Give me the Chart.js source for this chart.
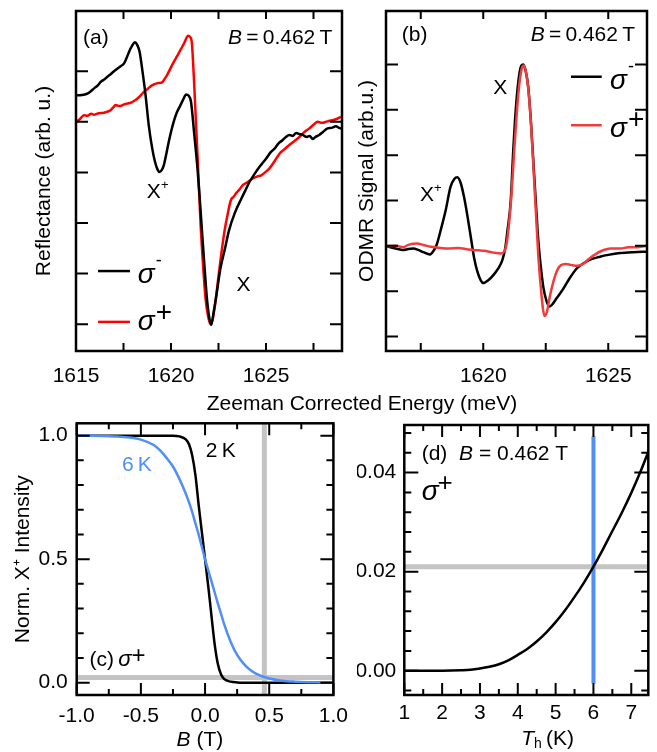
<!DOCTYPE html>
<html>
<head>
<meta charset="utf-8">
<script src="https://cdn.jsdelivr.net/npm/chart.js@4.4.1/dist/chart.umd.min.js"></script>
<style>
  html, body { margin: 0; padding: 0; background: #fff; }
  #fig { position: relative; width: 657px; height: 752px; overflow: hidden;
         font-family: 'Liberation Sans', Arial, Helvetica, sans-serif; }
  #fig canvas { position: absolute; }
  #energyTitle { position: absolute; left: 362px; top: 403px; font-size: 21px; color: #000;
                 white-space: nowrap; transform: translate(-50%, -50%); }
</style>
</head>
<body>
<div id="fig">
  <canvas id="panelA" width="357" height="395" style="left:0;top:0"></canvas>
  <canvas id="panelB" width="312" height="395" style="left:345px;top:0"></canvas>
  <canvas id="panelC" width="357" height="352" style="left:0;top:400px"></canvas>
  <canvas id="panelD" width="300" height="352" style="left:357px;top:400px"></canvas>
  <div id="energyTitle">Zeeman Corrected Energy (meV)</div>
</div>
<script>
// ── (a) reflectance spectra at B = 0.462 T ── //
const reflEnergyMinus = [1615.0, 1615.3, 1615.55, 1615.7, 1615.95, 1616.15, 1616.3, 1616.5, 1616.65, 1616.85,
  1617.0, 1617.17, 1617.35, 1617.52, 1617.65, 1617.8, 1617.95, 1618.1, 1618.22, 1618.35,
  1618.48, 1618.66, 1618.83, 1619.0, 1619.15, 1619.3, 1619.39, 1619.5, 1619.62, 1619.75,
  1619.88, 1620.0, 1620.14, 1620.3, 1620.5, 1620.65, 1620.8, 1620.92, 1621.05, 1621.22,
  1621.4, 1621.52, 1621.64, 1621.78, 1621.9, 1622.02, 1622.12, 1622.25, 1622.4, 1622.6,
  1622.82, 1623.05, 1623.35, 1623.7, 1624.0, 1624.13, 1624.4, 1624.66, 1624.85, 1625.0,
  1625.25, 1625.45, 1625.65, 1625.88, 1626.05, 1626.23, 1626.4, 1626.59, 1626.75, 1626.93,
  1627.15, 1627.3, 1627.46, 1627.6, 1627.8, 1628.0, 1628.24, 1628.45, 1628.68, 1628.85, 1629.0];
const reflMinus = [4.52, 4.53, 4.55, 4.58, 4.66, 4.72, 4.79, 4.84, 4.89, 4.95,
  5.0, 5.05, 5.1, 5.15, 5.25, 5.39, 5.5, 5.57, 5.52, 5.38,
  5.05, 4.53, 3.93, 3.5, 3.22, 3.05, 3.01, 3.04, 3.14, 3.36,
  3.6, 3.8, 4.0, 4.18, 4.33, 4.45, 4.54, 4.52, 4.4, 3.77,
  3.05, 2.45, 1.79, 1.05, 0.47, 0.12, -0.01, 0.25, 0.6, 1.1,
  1.46, 1.85, 2.19, 2.48, 2.71, 2.81, 2.97, 3.11, 3.2, 3.27,
  3.4, 3.47, 3.57, 3.64, 3.7, 3.74, 3.72, 3.78, 3.76, 3.74,
  3.7, 3.72, 3.66, 3.7, 3.74, 3.8, 3.87, 3.88, 3.91, 3.88, 3.86];
const reflEnergyPlus = [1615.0, 1615.2, 1615.42, 1615.6, 1615.8, 1615.94, 1616.2, 1616.47, 1616.65, 1616.82,
  1617.0, 1617.08, 1617.3, 1617.5, 1617.69, 1617.9, 1618.13, 1618.35, 1618.57, 1618.8,
  1619.0, 1619.25, 1619.53, 1619.65, 1619.79, 1619.95, 1620.14, 1620.32, 1620.5, 1620.7,
  1620.9, 1621.0, 1621.1, 1621.2, 1621.3, 1621.4, 1621.56, 1621.7, 1621.82, 1621.97,
  1622.1, 1622.22, 1622.35, 1622.5, 1622.65, 1622.82, 1622.99, 1623.15, 1623.3, 1623.45,
  1623.6, 1623.78, 1624.0, 1624.31, 1624.55, 1624.75, 1624.95, 1625.18, 1625.45, 1625.71,
  1625.95, 1626.23, 1626.5, 1626.76, 1627.0, 1627.28, 1627.5, 1627.72, 1627.95, 1628.16,
  1628.35, 1628.5, 1628.75, 1628.95];
const reflPlus = [3.99, 4.05, 4.13, 4.12, 4.16, 4.14, 4.17, 4.18, 4.2, 4.23,
  4.3, 4.33, 4.31, 4.34, 4.36, 4.38, 4.43, 4.5, 4.59, 4.66,
  4.72, 4.76, 4.78, 4.84, 4.92, 5.04, 5.18, 5.3, 5.42, 5.56,
  5.7, 5.68, 5.55, 4.9, 4.1, 3.3, 1.95, 1.1, 0.5, 0.12,
  -0.01, 0.15, 0.47, 0.95, 1.4, 1.85, 2.19, 2.45, 2.52, 2.6,
  2.66, 2.75, 2.8, 2.88, 2.92, 2.94, 3.0, 3.08, 3.22, 3.37,
  3.45, 3.54, 3.62, 3.7, 3.79, 3.87, 3.94, 4.0, 3.98, 4.0,
  4.02, 4.03, 4.06, 4.1];

// ── (b) ODMR spectra ── //
const odmrEnergyMinus = [1616.13, 1616.5, 1616.8, 1617.0, 1617.2, 1617.4, 1617.6, 1617.87, 1618.0, 1618.14,
  1618.3, 1618.5, 1618.69, 1618.85, 1618.96, 1619.1, 1619.23, 1619.37, 1619.5, 1619.63,
  1619.76, 1619.9, 1620.0, 1620.2, 1620.43, 1620.6, 1620.76, 1620.88, 1620.96, 1621.1,
  1621.2, 1621.3, 1621.42, 1621.52, 1621.6, 1621.7, 1621.8, 1621.9, 1622.0, 1622.1,
  1622.2, 1622.3, 1622.4, 1622.52, 1622.64, 1622.75, 1622.94, 1623.2, 1623.45, 1623.74,
  1624.03, 1624.3, 1624.67, 1625.0, 1625.47, 1626.0, 1626.55];
const odmrMinus = [-0.01, -0.06, -0.09, -0.07, -0.06, -0.09, -0.14, -0.19, -0.12, 0.03,
  0.35, 0.79, 1.3, 1.48, 1.51, 1.38, 1.08, 0.65, 0.2, -0.25,
  -0.56, -0.76, -0.82, -0.76, -0.63, -0.5, -0.32, -0.05, 0.3, 1.0,
  2.1, 3.0, 3.7, 3.97, 4.0, 3.85, 3.5, 2.8, 1.9, 1.0,
  0.13, -0.45, -0.9, -1.2, -1.34, -1.3, -1.15, -0.95, -0.72, -0.5,
  -0.38, -0.3, -0.24, -0.2, -0.16, -0.14, -0.13];
const odmrEnergyPlus = [1616.13, 1616.5, 1616.8, 1617.0, 1617.36, 1617.6, 1617.9, 1618.2, 1618.6, 1619.0,
  1619.4, 1619.8, 1620.03, 1620.4, 1620.7, 1620.85, 1620.95, 1621.05, 1621.15, 1621.25,
  1621.35, 1621.45, 1621.55, 1621.62, 1621.72, 1621.82, 1621.92, 1622.02, 1622.12, 1622.2,
  1622.3, 1622.38, 1622.45, 1622.55, 1622.65, 1622.8, 1622.95, 1623.1, 1623.3, 1623.5,
  1623.75, 1624.0, 1624.2, 1624.45, 1624.7, 1625.1, 1625.5, 1625.8, 1626.2, 1626.55];
const odmrPlus = [-0.01, 0.0, -0.03, 0.02, 0.05, 0.02, -0.02, -0.04, -0.06, -0.05,
  -0.08, -0.1, -0.11, -0.15, -0.17, -0.12, 0.1, 0.6, 1.3, 2.2,
  3.0, 3.6, 3.93, 3.98, 3.8, 3.35, 2.6, 1.6, 0.6, -0.2,
  -0.9, -1.35, -1.55, -1.45, -1.15, -0.8, -0.55, -0.43, -0.4, -0.42,
  -0.44, -0.4, -0.3, -0.2, -0.12, -0.06, -0.06, -0.03, -0.03, 0.0];

// ── (c) normalised X+ intensity vs field ── //
const fieldT = [-1.0, -0.9, -0.8, -0.7, -0.6, -0.5, -0.4, -0.35, -0.3, -0.25,
  -0.2, -0.15, -0.125, -0.1, -0.075, -0.05, -0.025, 0.0, 0.025, 0.05,
  0.075, 0.1, 0.125, 0.15, 0.2, 0.25, 0.3, 0.35, 0.4, 0.5,
  0.6, 0.7, 0.8, 0.9, 1.0];
const intensity2K = [1, 1, 1, 1, 1, 1, 1, 1, 1, 1.0,
  0.997, 0.985, 0.965, 0.92, 0.84, 0.72, 0.61, 0.5, 0.39, 0.27,
  0.155, 0.075, 0.033, 0.014, 0.004, 0.001, 0, 0, 0, 0,
  0, 0, 0, 0, 0];
const intensity6K = [1.0, 0.9995, 0.999, 0.997, 0.993, 0.984, 0.962, 0.94, 0.91, 0.875,
  0.825, 0.765, 0.73, 0.69, 0.645, 0.6, 0.55, 0.5, 0.455, 0.41,
  0.365, 0.32, 0.278, 0.235, 0.165, 0.112, 0.077, 0.052, 0.036, 0.017,
  0.008, 0.004, 0.002, 0.001, 0.0];

// ── (d) X+ intensity at 0.462 T vs hole temperature ── //
const holeTempK = [1, 1.5, 2, 2.5, 2.75, 3, 3.25, 3.5, 3.75, 4,
  4.25, 4.5, 4.75, 5, 5.25, 5.5, 5.75, 6, 6.25, 6.5,
  6.75, 7, 7.25, 7.5];
const intensityAtField = [0, 0, 0.00001, 0.0001, 0.0002, 0.00045, 0.0008, 0.0013, 0.0021, 0.0032,
  0.0044, 0.0059, 0.0077, 0.0098, 0.0122, 0.0149, 0.0178, 0.021, 0.0245, 0.0282,
  0.0319, 0.0359, 0.0403, 0.0452];

const B_FIELD = 0.462;     // T, field used in (a), (b) and marked in (c)
const T_HOLE = 6;          // K, marked in (d)
const X_PLUS_LEVEL = 0.021;

// ── Axis ranges and ticks ── //
const rangeA = { x: [1615, 1629], y: [-0.53, 6.19] };
const rangeB = { x: [1616.11, 1626.55], y: [-2.32, 5.18] };
const rangeC = { x: [-1, 1], y: [-0.05, 1.05] };
const rangeD = { x: [1, 7.45], y: [-0.0049, 0.0496] };

const labelsAx = [1615, 1620, 1625];
const ticksAx = [1615, 1617.5, 1620, 1622.5, 1625, 1627.5];
const ticksAy = [0, 1, 2, 3, 4, 5];
const labelsBx = [1620, 1625];
const ticksBx = [1617.5, 1620, 1622.5, 1625];
const ticksBy = [-2, -1, 0, 1, 2, 3, 4];
const labelsCx = [-1, -0.5, 0, 0.5, 1];
const minorCx = [-0.75, -0.25, 0.25, 0.75];
const labelsCy = [0, 0.5, 1];
const minorCy = [0.1, 0.2, 0.3, 0.4, 0.6, 0.7, 0.8, 0.9];
const labelsDx = [1, 2, 3, 4, 5, 6, 7];
const minorDx = [1.5, 2.5, 3.5, 4.5, 5.5, 6.5];
const labelsDy = [0, 0.02, 0.04];
const minorDy = [-0.004, 0.004, 0.008, 0.012, 0.016, 0.024, 0.028, 0.032, 0.036, 0.044, 0.048];

const FONT = "'Liberation Sans', Arial, Helvetica, sans-serif";
const SIZE = 21;
const RED = '#ff0000';
const RED_ODMR = '#f03c3c';
const BLUE = '#4f8ff7';
const GREY = '#c4c4c4';

const pts = (xs, ys) => xs.map((x, i) => ({ x, y: ys[i] }));

// draws a run of text pieces (italics, super/subscripts) starting at x
function richText(ctx, x, y, parts, align, color) {
  const fontOf = p => `${p.st || ''} ${p.s || SIZE}px ${FONT}`;
  let w = 0;
  parts.forEach(p => { ctx.font = fontOf(p); w += ctx.measureText(p.t).width + (p.dx || 0); });
  let cx = align === 'right' ? x - w : align === 'center' ? x - w / 2 : x;
  ctx.textBaseline = 'middle';
  ctx.textAlign = 'left';
  parts.forEach(p => {
    ctx.font = fontOf(p);
    cx += p.dx || 0;
    ctx.fillStyle = p.c || color || '#000';
    ctx.fillText(p.t, cx, y + (p.dy || 0));
    cx += ctx.measureText(p.t).width;
  });
}

// frame round the plot area with inward ticks on all four sides
function frameTicks(xTicks, yTicks) {
  return {
    id: 'frameTicks',
    afterDatasetsDraw(chart) {
      const { ctx, chartArea: a, scales: { x, y } } = chart;
      ctx.save();
      ctx.strokeStyle = '#000';
      ctx.lineWidth = 2;
      ctx.beginPath();
      xTicks.forEach(([values, len]) => values.forEach(v => {
        const p = x.getPixelForValue(v);
        ctx.moveTo(p, a.bottom); ctx.lineTo(p, a.bottom - len);
        ctx.moveTo(p, a.top); ctx.lineTo(p, a.top + len);
      }));
      yTicks.forEach(([values, len]) => values.forEach(v => {
        const p = y.getPixelForValue(v);
        ctx.moveTo(a.left, p); ctx.lineTo(a.left + len, p);
        ctx.moveTo(a.right, p); ctx.lineTo(a.right - len, p);
      }));
      ctx.stroke();
      ctx.lineWidth = 2.5;
      ctx.strokeRect(a.left, a.top, a.width, a.height);
      ctx.restore();
    },
  };
}

// straight marker lines at fixed field / temperature / intensity
function markerLines(lines) {
  return {
    id: 'markerLines',
    beforeDatasetsDraw(chart) {
      const { ctx, chartArea: a, scales: { x, y } } = chart;
      ctx.save();
      lines.forEach(l => {
        ctx.strokeStyle = l.color;
        ctx.lineWidth = l.width;
        ctx.beginPath();
        if (l.axis === 'x') {
          const p = x.getPixelForValue(l.value);
          const y0 = l.from !== undefined ? y.getPixelForValue(l.from) : a.bottom;
          const y1 = l.to !== undefined ? y.getPixelForValue(l.to) : a.top;
          ctx.moveTo(p, y0); ctx.lineTo(p, y1);
        } else {
          const p = y.getPixelForValue(l.value);
          ctx.moveTo(a.left, p); ctx.lineTo(a.right, p);
        }
        ctx.stroke();
      });
      ctx.restore();
    },
  };
}

// labels, legend keys and axis captions
function annotations(items) {
  return {
    id: 'annotations',
    afterDraw(chart) {
      const { ctx, chartArea: a, scales: { x, y } } = chart;
      ctx.save();
      items.forEach(it => {
        const px = x.getPixelForValue(it.x);
        const py = it.below !== undefined ? a.bottom + it.below : y.getPixelForValue(it.y);
        if (it.line) {
          ctx.strokeStyle = it.color;
          ctx.lineWidth = 2.5;
          ctx.beginPath();
          ctx.moveTo(px, py);
          ctx.lineTo(x.getPixelForValue(it.x2), py);
          ctx.stroke();
        } else {
          richText(ctx, px, py + (it.dy || 0), it.parts, it.align, it.color);
        }
      });
      ctx.restore();
    },
  };
}

function curve(xs, ys, color) {
  return {
    data: pts(xs, ys),
    borderColor: color,
    borderWidth: 2.5,
    pointRadius: 0,
    fill: false,
    cubicInterpolationMode: 'monotone',
  };
}

function axis(range, labels, fmt, fitSize, horizontal, pad, title) {
  const cfg = {
    type: 'linear',
    min: range[0],
    max: range[1],
    grid: { display: false, drawTicks: false },
    border: { display: false },
    ticks: {
      display: labels.length > 0,
      autoSkip: false,
      maxRotation: 0,
      padding: pad,
      color: '#000',
      font: { family: FONT, size: SIZE },
      callback: v => fmt(v),
    },
    afterBuildTicks: s => { s.ticks = labels.map(v => ({ value: v })); },
    afterFit: s => { if (horizontal) s.height = fitSize; else s.width = fitSize; },
  };
  if (title) {
    cfg.title = {
      display: true,
      text: title.text,
      color: '#000',
      font: { family: FONT, size: SIZE },
      padding: { top: title.pad, bottom: 0 },
    };
  }
  return cfg;
}

function panel(id, datasets, scales, padding, plugins) {
  return new Chart(document.getElementById(id), {
    type: 'line',
    data: { datasets },
    options: {
      responsive: false,
      animation: false,
      events: [],
      layout: { padding },
      plugins: { legend: { display: false }, tooltip: { enabled: false } },
      scales,
    },
    plugins,
  });
}

const asInt = v => String(v);
const sigmaMinus = [{ t: 'σ', st: 'italic', s: 28 }, { t: '-', s: 18, dx: 1, dy: -14 }];
const sigmaPlus = [{ t: 'σ', st: 'italic', s: 28 }, { t: '+', s: 28, dx: 1, dy: -9 }];

// ── (a) ── //
panel('panelA',
  [curve(reflEnergyMinus, reflMinus, '#000'), curve(reflEnergyPlus, reflPlus, RED)],
  {
    x: axis(rangeA.x, labelsAx, asInt, 44, true, 13),
    y: axis(rangeA.y, [], asInt, 76, false, 9, { text: 'Reflectance (arb. u.)', pad: 32 }),
  },
  { left: 0, right: 15, top: 11, bottom: 0 },
  [
    frameTicks([[ticksAx, 8]], [[ticksAy, 12]]),
    annotations([
      { x: 1615.37, y: 5.65, parts: [{ t: '(a)' }] },
      { x: 1628.49, y: 5.65, align: 'right', parts: [{ t: 'B', st: 'italic' }, { t: '\u2009=\u2009' }, { t: '0.462\u2009T' }] },
      { x: 1618.73, y: 2.61, parts: [{ t: 'X' }, { t: '+', s: 13, dy: -7 }] },
      { x: 1623.45, y: 0.77, parts: [{ t: 'X' }] },
      { line: true, x: 1616.16, x2: 1617.84, y: 1.05, color: '#000' },
      { line: true, x: 1616.16, x2: 1617.84, y: 0.045, color: RED },
      { x: 1618.25, y: 0.97, parts: sigmaMinus },
      { x: 1618.25, y: 0.03, parts: sigmaPlus },
    ]),
  ]);

// ── (b) ── //
panel('panelB',
  [curve(odmrEnergyPlus, odmrPlus, RED_ODMR), curve(odmrEnergyMinus, odmrMinus, '#000')],
  {
    x: axis(rangeB.x, labelsBx, asInt, 44, true, 13),
    y: axis(rangeB.y, [], asInt, 41, false, 9, { text: 'ODMR Signal (arb.u.)', pad: 10 }),
  },
  { left: 0, right: 10, top: 11, bottom: 0 },
  [
    frameTicks([[ticksBx, 8]], [[ticksBy, 12]]),
    annotations([
      { x: 1616.74, y: 4.65, parts: [{ t: '(b)' }] },
      { x: 1626.07, y: 4.65, align: 'right', parts: [{ t: 'B', st: 'italic' }, { t: '\u2009=\u2009' }, { t: '0.462\u2009T' }] },
      { x: 1620.4, y: 3.47, parts: [{ t: 'X' }] },
      { x: 1617.47, y: 1.11, parts: [{ t: 'X' }, { t: '+', s: 13, dy: -7 }] },
      { line: true, x: 1623.51, x2: 1624.74, y: 3.73, color: '#000' },
      { line: true, x: 1623.51, x2: 1624.74, y: 2.66, color: RED_ODMR },
      { x: 1625.07, y: 3.63, parts: sigmaMinus },
      { x: 1625.07, y: 2.58, parts: sigmaPlus },
    ]),
  ]);

// ── (c) ── //
panel('panelC',
  [curve(fieldT, intensity6K, BLUE), curve(fieldT, intensity2K, '#000')],
  {
    x: axis(rangeC.x, labelsCx, v => v.toFixed(1), 57, true, 9),
    y: axis(rangeC.y, labelsCy, v => v.toFixed(1), 76.7, false, 9, { text: 'Norm. X\u207A Intensity', pad: 11 }),
  },
  { left: 0, right: 15.3, top: 23.3, bottom: 0 },
  [
    markerLines([
      { axis: 'y', value: X_PLUS_LEVEL, color: GREY, width: 5 },
      { axis: 'x', value: B_FIELD, color: GREY, width: 5 },
    ]),
    frameTicks([[labelsCx, 12], [minorCx, 6]], [[labelsCy, 13], [minorCy, 7]]),
    annotations([
      { x: 0.006, y: 0.939, parts: [{ t: '2\u2009K' }] },
      { x: -0.648, y: 0.881, color: BLUE, parts: [{ t: '6\u2009K' }] },
      { x: -0.9, y: 0.092, parts: [{ t: '(c)\u2009' }, { t: 'σ', st: 'italic', s: 22 }, { t: '+', s: 24, dy: -4 }] },
      { x: -0.04, below: 45.5, align: 'center', parts: [{ t: 'B', st: 'italic' }, { t: ' (T)' }] },
    ]),
  ]);

// ── (d) ── //
panel('panelD',
  [curve(holeTempK, intensityAtField, '#000')],
  {
    x: axis(rangeD.x, labelsDx, asInt, 57, true, 6),
    y: axis(rangeD.y, labelsDy, v => v.toFixed(2), 47.3, false, 8),
  },
  { left: 0, right: 8.7, top: 25, bottom: 0 },
  [
    markerLines([
      { axis: 'y', value: X_PLUS_LEVEL, color: GREY, width: 5 },
      { axis: 'x', value: T_HOLE, color: BLUE, width: 4, from: -0.0026, to: 0.0473 },
    ]),
    frameTicks([[labelsDx, 12], [minorDx, 6]], [[labelsDy, 14], [minorDy, 7]]),
    annotations([
      { x: 1.46, y: 0.0438, parts: [{ t: '(d)  ' }, { t: 'B', st: 'italic' }, { t: ' = 0.462 T' }] },
      { x: 1.46, y: 0.0361, parts: [{ t: 'σ', st: 'italic', s: 28 }, { t: '+', s: 26, dx: -1, dy: -8 }] },
      { x: 4.79, below: 44, align: 'center', parts: [{ t: 'T', st: 'italic' }, { t: 'h', s: 14, dy: 5 }, { t: '\u2009(K)' }] },
    ]),
  ]);
</script>
</body>
</html>
